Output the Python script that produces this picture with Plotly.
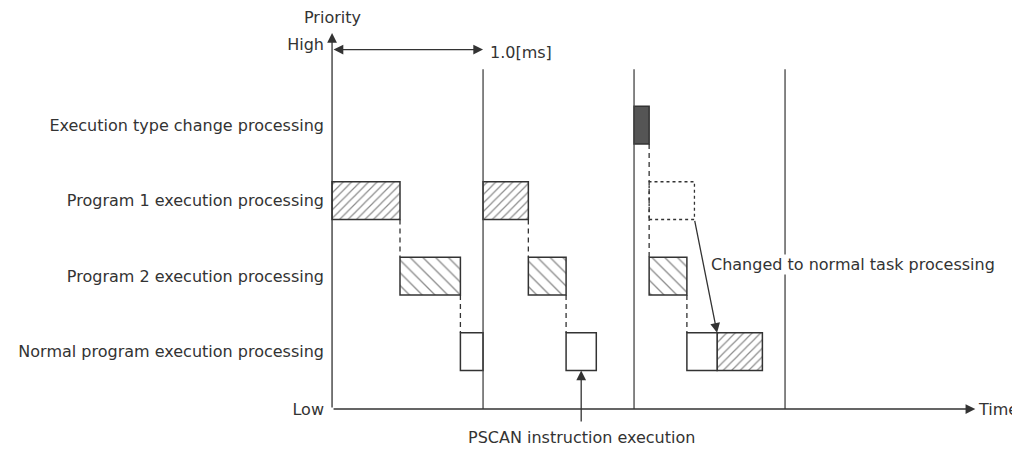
import plotly.graph_objects as go

# ---------------- data ----------------
row_labels = ["Normal program execution processing",
              "Program 2 execution processing",
              "Program 1 execution processing",
              "Execution type change processing"]
row_levels = [1, 2, 3, 4]
low_level = 0.24
high_level = 5.07

seg_task = ["P1", "P2", "Normal", "P1", "P2", "Normal", "Exec", "P2", "Normal", "P1"]
seg_level = [3, 2, 1, 3, 2, 1, 4, 2, 1, 1]
seg_start = [0.00, 0.45, 0.85, 1.00, 1.30, 1.55, 2.00, 2.10, 2.35, 2.55]
seg_end = [0.45, 0.85, 1.00, 1.30, 1.55, 1.75, 2.10, 2.35, 2.55, 2.85]

skipped_start = 2.10   # Program 1 (dotted, skipped) in third period
skipped_end = 2.40
skipped_level = 3

period_marks = [1.0, 2.0, 3.0]   # ms
time_end = 4.26
pscan_time = 1.65

# ---------------- styles ----------------
INK = "#333333"
FONT = "DejaVu Sans, Liberation Sans, Arial, sans-serif"
FS = 16
BAR_H = 0.5
styles = {
    "P1": dict(color="white", pattern=dict(shape="/", fgcolor="#1a1a1a", bgcolor="white", size=6, solidity=0.2)),
    "P2": dict(color="white", pattern=dict(shape="\\", fgcolor="#1a1a1a", bgcolor="white", size=9, solidity=0.15)),
    "Normal": dict(color="white"),
    "Exec": dict(color="#555555"),
}

fig = go.Figure()

# period divider lines
for t in period_marks:
    fig.add_trace(go.Scatter(x=[t, t], y=[low_level, 4.74], mode="lines",
                             line=dict(color="#444444", width=1.3),
                             showlegend=False, hoverinfo="skip"))

# dashed connectors where processing drops to the next lower priority
for i in range(len(seg_task) - 1):
    if abs(seg_end[i] - seg_start[i + 1]) < 1e-9 and seg_level[i + 1] < seg_level[i]:
        fig.add_trace(go.Scatter(x=[seg_end[i], seg_end[i]],
                                 y=[seg_level[i] - BAR_H / 2, seg_level[i + 1] + BAR_H / 2],
                                 mode="lines",
                                 line=dict(color=INK, width=1.3, dash="5px,4px"),
                                 showlegend=False, hoverinfo="skip"))

# processing bars
for task in ["P1", "P2", "Normal", "Exec"]:
    idx = [i for i, s in enumerate(seg_task) if s == task]
    st = styles[task]
    marker = dict(color=st["color"], line=dict(color=INK, width=1.5))
    if "pattern" in st:
        marker["pattern"] = st["pattern"]
    fig.add_trace(go.Bar(orientation="h",
                         y=[seg_level[i] for i in idx],
                         base=[seg_start[i] for i in idx],
                         x=[seg_end[i] - seg_start[i] for i in idx],
                         width=BAR_H, marker=marker,
                         showlegend=False, hoverinfo="skip"))

# skipped program 1 (dotted outline)
fig.add_shape(type="rect", xref="x", yref="y",
              x0=skipped_start, x1=skipped_end,
              y0=skipped_level - BAR_H / 2, y1=skipped_level + BAR_H / 2,
              line=dict(color=INK, width=1.3, dash="3px,3px"), fillcolor="rgba(0,0,0,0)")

arrow = dict(showarrow=True, arrowhead=2, arrowsize=1.5, arrowwidth=1.3,
             arrowcolor=INK, axref="x", ayref="y", xref="x", yref="y", text="")

# axes arrows
fig.add_annotation(x=0, y=5.22, ax=0, ay=low_level, **arrow)
fig.add_annotation(x=time_end, y=low_level, ax=0, ay=low_level, **arrow)
# 1.0 ms double arrow
fig.add_annotation(x=period_marks[0], y=5.0, ax=0, ay=5.0, arrowside="end+start", **arrow)
# changed-to-normal arrow
fig.add_annotation(x=seg_start[9], y=seg_level[9] + BAR_H / 2,
                   ax=skipped_end, ay=skipped_level - BAR_H / 2, **arrow)
# PSCAN arrow
fig.add_annotation(x=pscan_time, y=1 - BAR_H / 2, ax=pscan_time, ay=0.055, **arrow)

txt = dict(showarrow=False, xref="x", yref="y", font=dict(family=FONT, size=FS, color=INK))
fig.add_annotation(x=0, y=5.43, text="Priority", xanchor="center", yanchor="middle", **txt)
fig.add_annotation(x=1.03, y=4.96, text="1.0[ms]", xanchor="left", yanchor="middle", **txt)
fig.add_annotation(x=4.55, y=low_level, text="Time", xanchor="right", yanchor="middle",
                   borderpad=0, **txt)
fig.add_annotation(x=pscan_time, y=-0.144, text="PSCAN instruction execution",
                   xanchor="center", yanchor="middle", **txt)
fig.add_annotation(x=2.505, y=2.16, text="Changed to normal task processing",
                   xanchor="left", yanchor="middle", bgcolor="white", borderpad=0, **txt)

# page has an 8px body margin: plot pixel p -> page pixel p + 8
W, H = 1012, 442
fig.update_layout(
    width=W, height=H,
    margin=dict(l=0, r=0, t=0, b=0),
    paper_bgcolor="white", plot_bgcolor="white",
    barmode="overlay",
    showlegend=False,
    font=dict(family=FONT, size=FS, color=INK),
    xaxis=dict(range=[-2.146, 4.556], visible=False, showgrid=False, zeroline=False),
    yaxis=dict(range=[-0.303, 5.551], showgrid=False, zeroline=False, showline=False,
               anchor="free", position=324 / W, side="left",
               tickmode="array",
               tickvals=[low_level] + row_levels + [high_level],
               ticktext=["Low"] + row_labels + ["High"],
               ticks="", ticklabelstandoff=8,
               tickfont=dict(family=FONT, size=FS, color=INK)),
)

fig.write_html("out.html")
